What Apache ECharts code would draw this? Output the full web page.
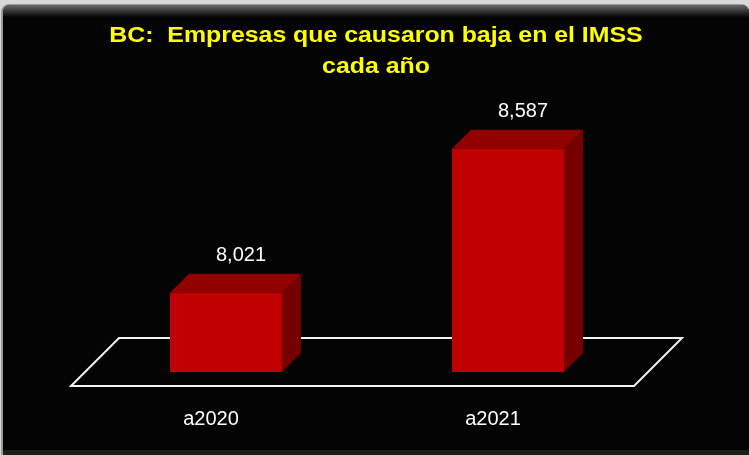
<!DOCTYPE html>
<html>
<head>
<meta charset="utf-8">
<script src="https://cdn.jsdelivr.net/npm/echarts@6/dist/echarts.min.js"></script>
<style>
  html, body { margin: 0; padding: 0; background: #fff; }
  #chart { width: 749px; height: 455px; }
</style>
</head>
<body>
<div id="chart"></div>
<script>
// datos
const years = ['a2020', 'a2021'];
const bajas = [8021, 8587];
const titleLines = ['BC:  Empresas que causaron baja en el IMSS', 'cada año'];

const chart = echarts.init(document.getElementById('chart'));

const DEPTH = 19;
const FRONT = '#c00000', TOP = '#930000', SIDE = '#760000';

function renderBar(params, api) {
  const cx = api.coord([api.value(0), 0])[0];
  const top = api.coord([api.value(0), api.value(1)])[1];
  const base = params.coordSys.y + params.coordSys.height;
  const w = api.size([1, 0])[0] * 0.397;
  const x0 = cx - w / 2, x1 = cx + w / 2, d = DEPTH;
  return {
    type: 'group',
    children: [
      { type: 'polygon', shape: { points: [[x1, top], [x1 + d, top - d], [x1 + d, base - d], [x1, base]] },
        style: { fill: SIDE } },
      { type: 'polygon', shape: { points: [[x0, top], [x0 + d, top - d], [x1 + d, top - d], [x1, top]] },
        style: { fill: TOP } },
      { type: 'rect', shape: { x: x0, y: top, width: w, height: base - top },
        style: { fill: FRONT } },
      { type: 'text', x: cx + 15, y: top - d - 18,
        style: { text: echarts.format.addCommas(api.value(1)), fill: '#fff',
          font: '20px "Liberation Sans"', textAlign: 'center', textVerticalAlign: 'middle' } }
    ]
  };
}

// piso en perspectiva, sacado del area del grid
function renderFloor(params) {
  const cs = params.coordSys;
  const l = cs.x, r = cs.x + cs.width, b = cs.y + cs.height;
  return {
    type: 'polygon',
    shape: { points: [[l - 14, b + 14], [l + 34, b - 34], [r + 33, b - 34], [r - 15, b + 14]] },
    style: { fill: 'none', stroke: '#f2f2f2', lineWidth: 2 }
  };
}

chart.setOption({
  animation: false,
  backgroundColor: '#d9d9d9',
  graphic: [
    { type: 'rect', z: -10, shape: { x: 1, y: 4, width: 748, height: 451, r: [8, 8, 0, 0] },
      style: { fill: '#9a9a9a' } },
    { type: 'rect', z: -9, shape: { x: 3, y: 5, width: 746, height: 450, r: [7, 7, 0, 0] },
      style: { fill: '#040404' } },
    { type: 'rect', z: -8, shape: { x: 3, y: 5, width: 746, height: 12, r: [7, 7, 0, 0] },
      style: { fill: new echarts.graphic.LinearGradient(0, 0, 0, 1, [
        { offset: 0, color: '#6a6a6a' }, { offset: 1, color: '#050505' }]) } },
    { type: 'rect', z: -8, shape: { x: 3, y: 450, width: 746, height: 5 },
      style: { fill: '#1e1e1e' } },
    { type: 'text', x: 376, y: 36, scaleX: 1.13,
      style: { text: titleLines[0], fill: '#ffff00', font: 'bold 22px "Liberation Sans"',
        textAlign: 'center', textVerticalAlign: 'middle' } },
    { type: 'text', x: 376, y: 67, scaleX: 1.13,
      style: { text: titleLines[1], fill: '#ffff00', font: 'bold 22px "Liberation Sans"',
        textAlign: 'center', textVerticalAlign: 'middle' } }
  ],
  grid: { left: 85, top: 92, width: 564, height: 280 },
  xAxis: {
    type: 'category',
    data: years,
    axisLine: { show: false },
    axisTick: { show: false },
    axisLabel: { color: '#fff', fontSize: 20, fontFamily: 'Liberation Sans', margin: 37, padding: [0, 30, 0, 0] }
  },
  yAxis: { type: 'value', min: 7710, max: 8810, show: false, splitLine: { show: false } },
  series: [
    { type: 'custom', z: 1, renderItem: renderFloor, data: [[0, 7710]], silent: true },
    { type: 'custom', z: 2, renderItem: renderBar, data: years.map((y, i) => [i, bajas[i]]) }
  ]
});
</script>
</body>
</html>
